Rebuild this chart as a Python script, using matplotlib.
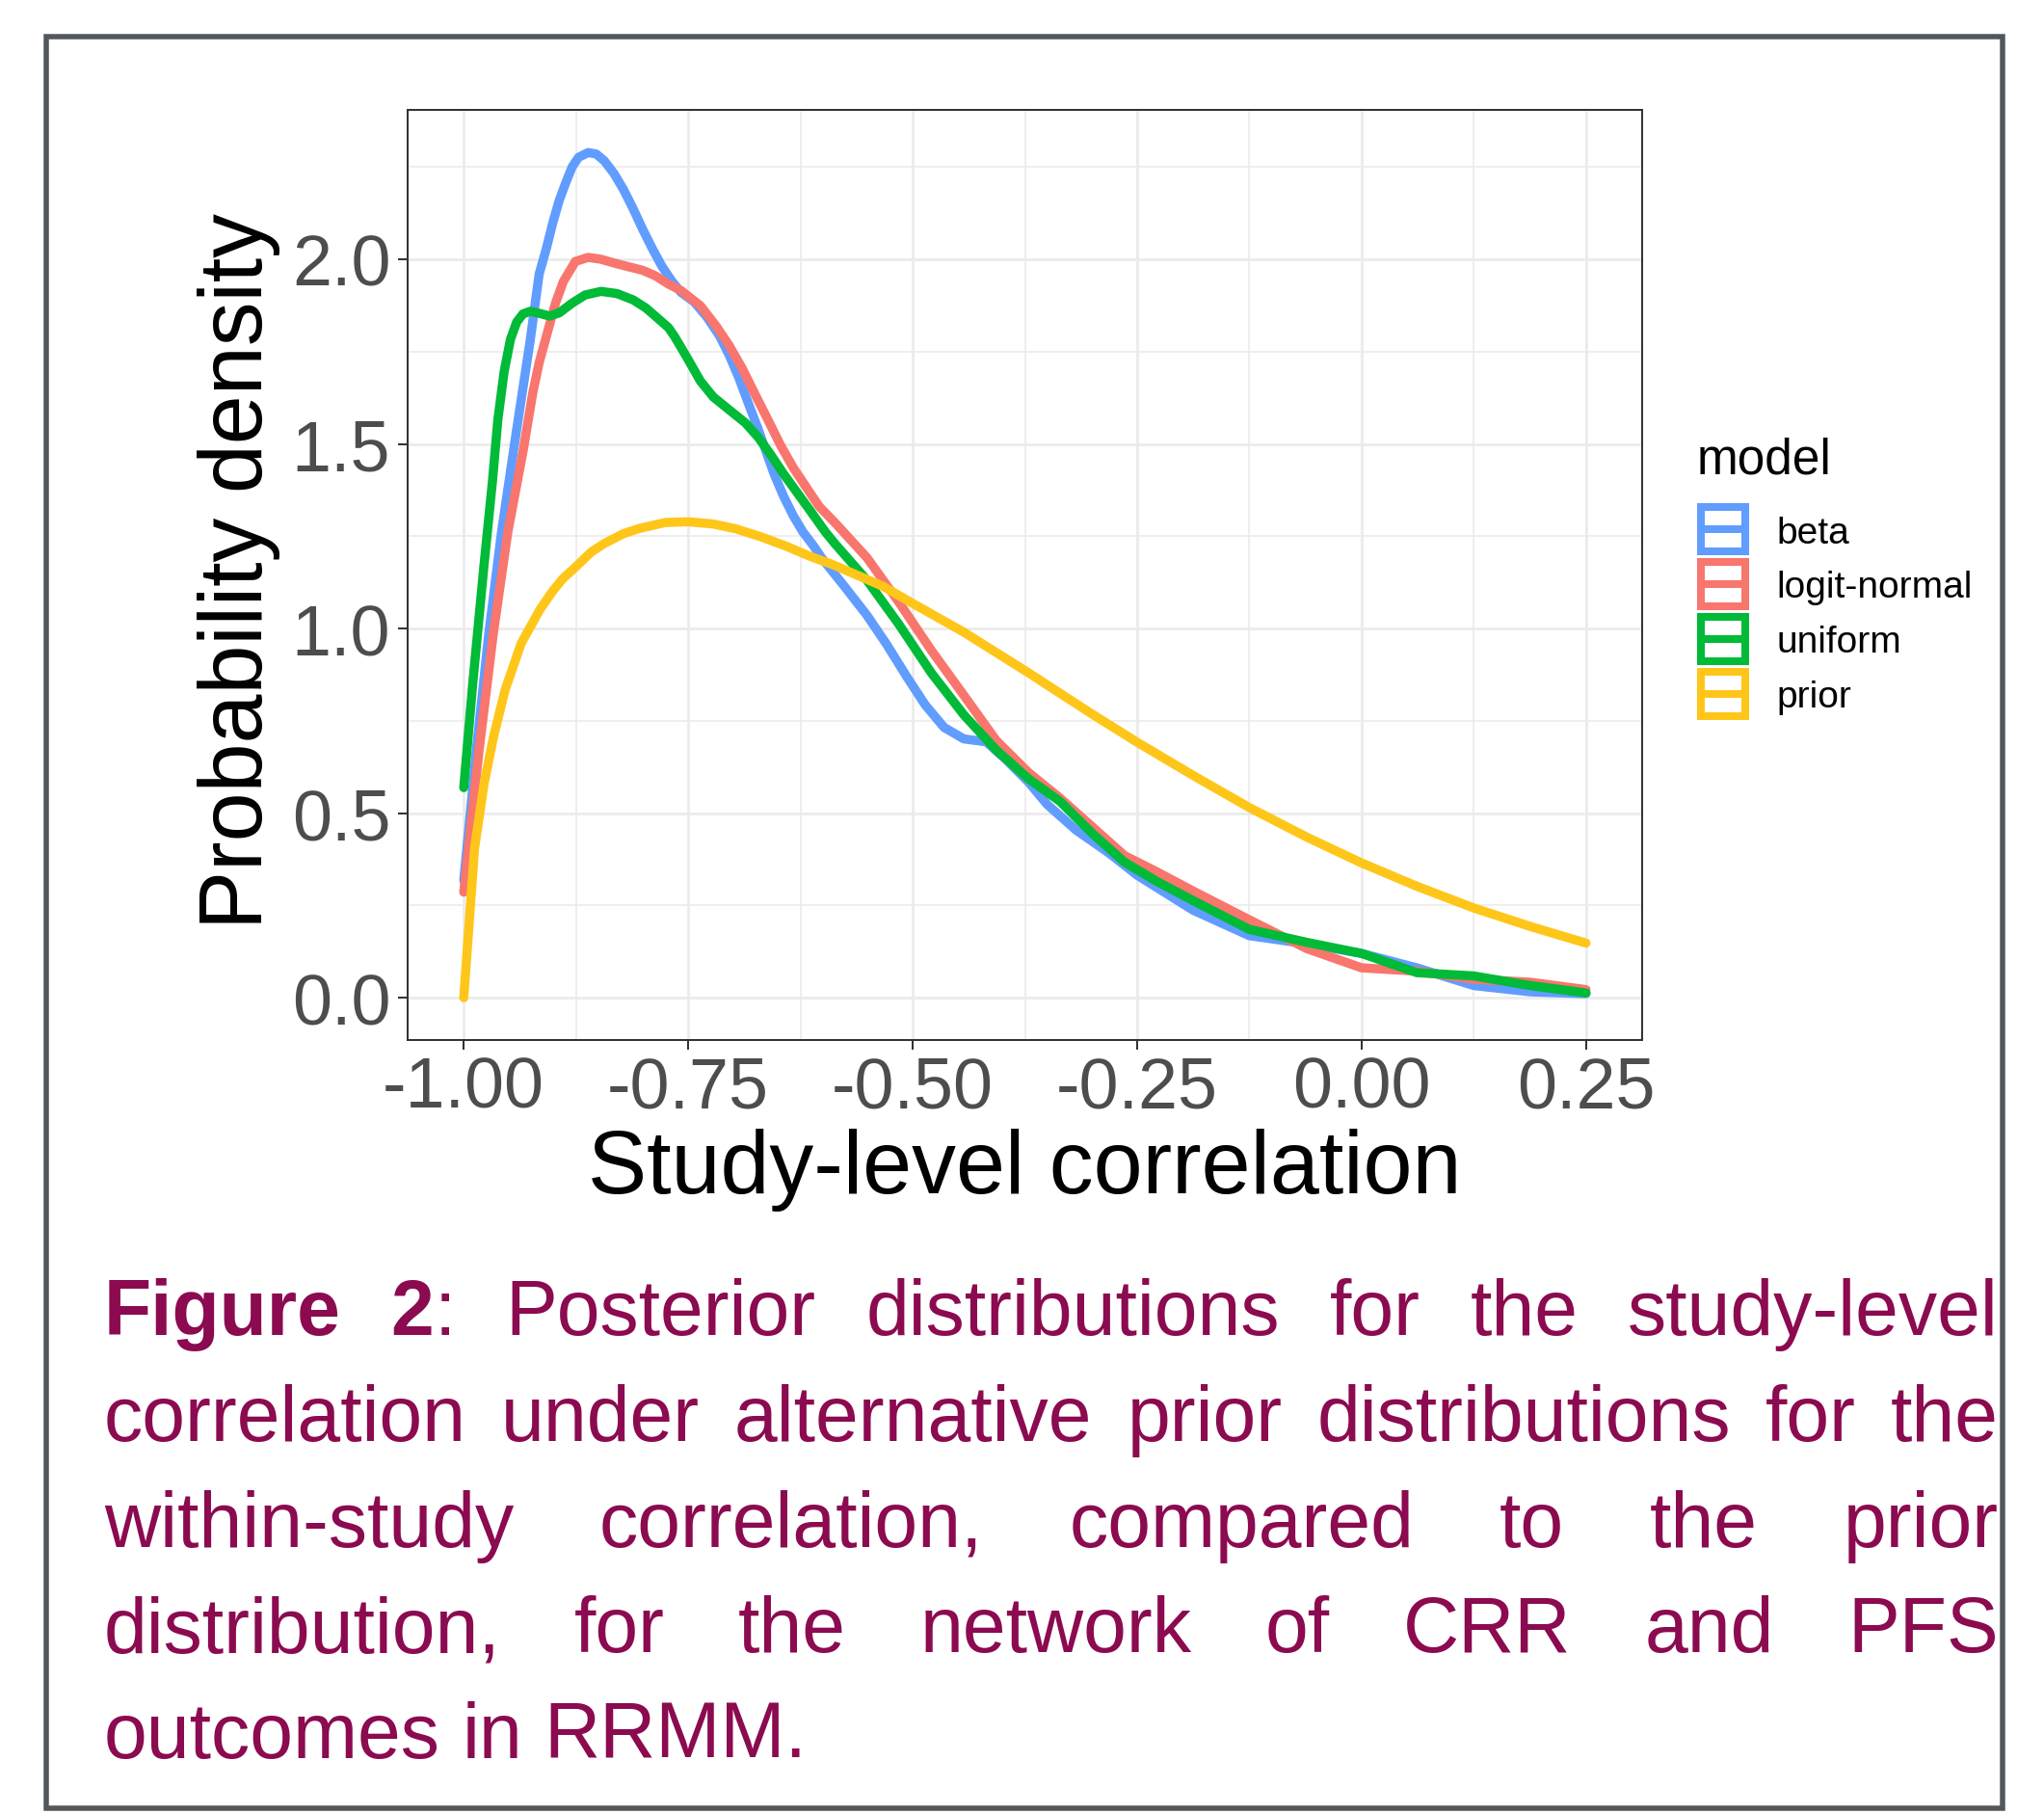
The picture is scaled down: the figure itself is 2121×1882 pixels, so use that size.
import matplotlib
matplotlib.use("Agg")
import matplotlib.pyplot as plt
from matplotlib.patches import Rectangle
from matplotlib.lines import Line2D

plt.rcParams['font.family'] = ['Liberation Sans', 'DejaVu Sans']
plt.rcParams['axes.unicode_minus'] = False

# ---------------- data ----------------
beta_x = [-1.0, -0.986, -0.972, -0.958, -0.941, -0.926, -0.916, -0.9079, -0.9007, -0.8936, -0.8864,
          -0.8793, -0.8721, -0.8614, -0.8525, -0.8436, -0.8329, -0.8221, -0.8114, -0.8007, -0.79,
          -0.7793, -0.7686, -0.7579, -0.7436, -0.7293, -0.715, -0.7043, -0.6936, -0.6829, -0.6721,
          -0.6632, -0.6543, -0.6436, -0.6329, -0.6221, -0.6114, -0.601, -0.576, -0.551, -0.529,
          -0.507, -0.486, -0.465, -0.443, -0.418, -0.396, -0.371, -0.350, -0.318, -0.282, -0.25,
          -0.1876, -0.125, -0.061, 0.0, 0.0615, 0.125, 0.188, 0.25]
beta_y = [0.318, 0.669, 0.988, 1.26, 1.54, 1.78, 1.96, 2.03, 2.10, 2.16, 2.207,
          2.25, 2.276, 2.289, 2.285, 2.267, 2.233, 2.189, 2.137, 2.081, 2.029,
          1.981, 1.942, 1.910, 1.885, 1.844, 1.792, 1.74, 1.679, 1.609, 1.54,
          1.479, 1.418, 1.357, 1.305, 1.261, 1.227, 1.19, 1.114, 1.036, 0.957,
          0.871, 0.793, 0.732, 0.701, 0.693, 0.645, 0.584, 0.523, 0.454, 0.393, 0.332,
          0.237, 0.168, 0.146, 0.120, 0.081, 0.033, 0.016, 0.011]

logit_x = [-1.0, -0.983, -0.967, -0.951, -0.934, -0.923, -0.916, -0.907, -0.898, -0.889, -0.8757,
           -0.8614, -0.8471, -0.8329, -0.8186, -0.8007, -0.7864, -0.7721, -0.7579, -0.7364, -0.7186,
           -0.7043, -0.69, -0.6757, -0.6614, -0.6471, -0.6329, -0.6186, -0.6043, -0.586, -0.551,
           -0.515, -0.479, -0.443, -0.407, -0.371, -0.336, -0.300, -0.264, -0.228, -0.1876,
           -0.125, -0.061, 0.0, 0.0615, 0.125, 0.188, 0.25]
logit_y = [0.286, 0.669, 0.988, 1.26, 1.48, 1.64, 1.72, 1.80, 1.88, 1.94, 1.994,
           2.005, 2.0, 1.99, 1.981, 1.97, 1.955, 1.933, 1.915, 1.874, 1.818,
           1.766, 1.705, 1.635, 1.566, 1.496, 1.435, 1.383, 1.331, 1.285, 1.192,
           1.07, 0.94, 0.819, 0.697, 0.61, 0.541, 0.463, 0.385, 0.341, 0.289,
           0.211, 0.133, 0.081, 0.072, 0.050, 0.042, 0.022]

unif_x = [-1.0, -0.990, -0.9775, -0.968, -0.962, -0.955, -0.948, -0.941, -0.934, -0.926, -0.915,
          -0.9043, -0.8936, -0.8793, -0.865, -0.8471, -0.8293, -0.8114, -0.7971, -0.7829, -0.7721,
          -0.765, -0.7507, -0.7364, -0.7221, -0.7043, -0.6864, -0.6721, -0.6579, -0.6436, -0.6293,
          -0.615, -0.5971, -0.586, -0.551, -0.515, -0.479, -0.443, -0.407, -0.371, -0.336,
          -0.300, -0.264, -0.228, -0.1876, -0.125, -0.061, 0.0, 0.0615, 0.125, 0.188, 0.25]
unif_y = [0.569, 0.851, 1.17, 1.40, 1.566, 1.696, 1.783, 1.83, 1.852, 1.859, 1.853,
          1.846, 1.855, 1.881, 1.903, 1.913, 1.907, 1.89, 1.868, 1.838, 1.815,
          1.79, 1.731, 1.67, 1.627, 1.592, 1.557, 1.518, 1.47, 1.418, 1.37,
          1.322, 1.261, 1.228, 1.131, 1.01, 0.879, 0.766, 0.671, 0.593, 0.532,
          0.445, 0.367, 0.315, 0.263, 0.185, 0.150, 0.120, 0.068, 0.059, 0.033, 0.013]

prior_x = [-1.0, -0.988, -0.9775, -0.967, -0.954, -0.936, -0.915, -0.9007, -0.890, -0.8757,
           -0.858, -0.8436, -0.822, -0.8043, -0.7757, -0.75, -0.7221, -0.697, -0.6686, -0.64,
           -0.615, -0.59, -0.5614, -0.5329, -0.5, -0.443, -0.371, -0.300, -0.25, -0.1876,
           -0.125, -0.061, 0.0, 0.0615, 0.125, 0.188, 0.25]
prior_y = [0.0, 0.404, 0.578, 0.705, 0.833, 0.96, 1.052, 1.102, 1.134, 1.166,
           1.207, 1.230, 1.257, 1.271, 1.287, 1.289, 1.283, 1.27, 1.248, 1.222,
           1.196, 1.174, 1.144, 1.114, 1.068, 0.99, 0.88, 0.768, 0.692, 0.602,
           0.515, 0.435, 0.365, 0.302, 0.243, 0.193, 0.148]

models = ["beta", "logit-normal", "uniform", "prior"]
colors = ["#619CFF", "#F8766D", "#00BA38", "#FFC61A"]
series_x = [beta_x, logit_x, unif_x, prior_x]
series_y = [beta_y, logit_y, unif_y, prior_y]

x_ticks = [-1.00, -0.75, -0.50, -0.25, 0.00, 0.25]
x_ticklabels = ["-1.00", "-0.75", "-0.50", "-0.25", "0.00", "0.25"]
y_ticks = [0.0, 0.5, 1.0, 1.5, 2.0]
y_ticklabels = ["0.0", "0.5", "1.0", "1.5", "2.0"]
x_minor = [-0.875, -0.625, -0.375, -0.125, 0.125]
y_minor = [0.25, 0.75, 1.25, 1.75, 2.25]

caption_lines = [
    [[("Figure", "bold")], [("2", "bold"), (":", "normal")], [("Posterior", "normal")],
     [("distributions", "normal")], [("for", "normal")], [("the", "normal")], [("study-level", "normal")]],
    [[(w, "normal")] for w in "correlation under alternative prior distributions for the".split()],
    [[(w, "normal")] for w in "within-study correlation, compared to the prior".split()],
    [[(w, "normal")] for w in "distribution, for the network of CRR and PFS".split()],
    [[(w, "normal")] for w in "outcomes in RRMM.".split()],
]

# ---------------- layout ----------------
W, H = 2121, 1883
DPI = 100
fig = plt.figure(figsize=(W / DPI, H / DPI), dpi=DPI)
fig.patch.set_facecolor("white")


def fx(px):
    return px / W


def fy(py):
    return 1 - py / H


def pt(px):
    return px * 72.0 / DPI


# outer frame
fig.add_artist(Rectangle((fx(47.5), fy(1877)), fx(2077.5) - fx(47.5), fy(39) - fy(1877),
                         transform=fig.transFigure, fill=False, edgecolor="#52575C",
                         lw=pt(5.5), zorder=0))

ax = fig.add_axes([fx(423), fy(1080), fx(1704) - fx(423), fy(115) - fy(1080)])
ax.set_facecolor("white")
for i in range(len(models)):
    ax.plot(series_x[i], series_y[i], color=colors[i], lw=pt(9.5),
            solid_capstyle="round", solid_joinstyle="round", zorder=3 + i)

ax.set_xlim(-1.0625, 0.3125)
ax.set_ylim(-0.1145, 2.4045)
ax.set_xticks(x_ticks)
ax.set_xticklabels(x_ticklabels)
ax.set_yticks(y_ticks)
ax.set_yticklabels(y_ticklabels)
ax.set_xticks(x_minor, minor=True)
ax.set_yticks(y_minor, minor=True)
ax.set_axisbelow(True)
ax.grid(which="major", color="#EBEBEB", lw=pt(2.8))
ax.grid(which="minor", color="#EBEBEB", lw=pt(1.6))
ax.tick_params(which="minor", length=0)
ax.tick_params(which="major", length=pt(10), width=pt(2), color="#333333",
               labelsize=53, labelcolor="#4D4D4D")
ax.tick_params(axis="x", pad=4)
ax.tick_params(axis="y", pad=5.5)
for s in ax.spines.values():
    s.set_color("#333333")
    s.set_linewidth(pt(2))

# axis titles
fig.text(fx(1063), fy(1238), "Study-level correlation", ha="center", va="baseline",
         fontsize=66, color="black")
fig.text(fx(248), fy(593), "Probability density", ha="center", va="center",
         rotation=90, fontsize=66, color="black")

# legend (ggplot style keys)
fig.text(fx(1761), fy(491), "model", ha="left", va="baseline", fontsize=37, color="black")
for i, (m, c) in enumerate(zip(models, colors)):
    top = 523 + i * 57
    bw = 8
    fig.add_artist(Rectangle((fx(1761 + bw / 2), fy(top + 54 - bw / 2)),
                             fx(54 - bw), (54 - bw) / H, transform=fig.transFigure,
                             fill=False, edgecolor=c, lw=pt(bw)))
    fig.add_artist(Line2D([fx(1761 + bw / 2), fx(1815 - bw / 2)], [fy(top + 27), fy(top + 27)],
                          transform=fig.transFigure, color=c, lw=pt(bw)))
    fig.text(fx(1843), fy(top + 27 + 13.5), m, ha="left", va="baseline", fontsize=28,
             color="black")

# caption (justified)
cap_color = "#8B0A50"
cap_size = 58
left_px, right_px = 108, 2074
baselines = [1385 + 109.75 * k for k in range(len(caption_lines))]
renderer = fig.canvas.get_renderer()


def seg_width(text, weight):
    t = fig.text(0, 0, text, fontsize=cap_size, fontweight=weight)
    w = t.get_window_extent(renderer).width
    t.remove()
    return w


space_w = seg_width("a a", "normal") - seg_width("aa", "normal")
for li, words in enumerate(caption_lines):
    widths = [sum(seg_width(s, wt) for s, wt in word) for word in words]
    if li < len(caption_lines) - 1 and len(words) > 1:
        gap = (right_px - left_px - sum(widths)) / (len(words) - 1)
    else:
        gap = space_w
    xcur = left_px
    for word, wd in zip(words, widths):
        xs = xcur
        for s, wt in word:
            fig.text(fx(xs), fy(baselines[li]), s, ha="left", va="baseline",
                     fontsize=cap_size, fontweight=wt, color=cap_color)
            xs += seg_width(s, wt)
        xcur += wd + gap

fig.savefig("out.png", dpi=DPI, facecolor="white")
